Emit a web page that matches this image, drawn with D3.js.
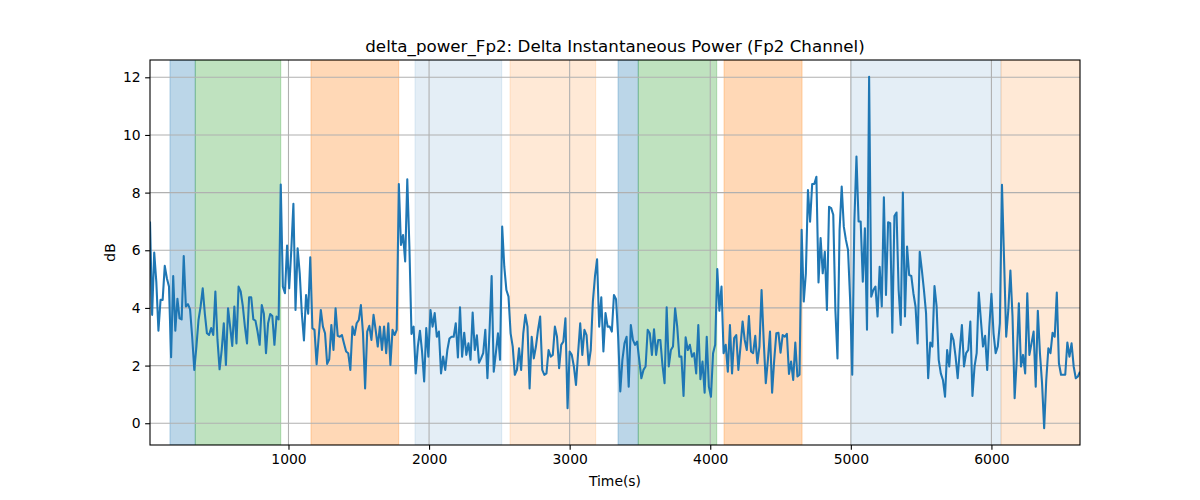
<!DOCTYPE html>
<html>
<head>
<meta charset="utf-8">
<script src="https://cdn.jsdelivr.net/npm/d3@7"></script>
<style>
  html, body { margin: 0; padding: 0; background: #ffffff; }
  svg { display: block; }
  text { font-family: "DejaVu Sans", sans-serif; fill: #000; }
</style>
</head>
<body>
<svg id="chart" width="1200" height="500"></svg>
<script>
// ---------------- data ----------------
const title = "delta_power_Fp2: Delta Instantaneous Power (Fp2 Channel)";
const xLabel = "Time(s)";
const yLabel = "dB";
const timeStart = 15;      // first sample time (s)
const timeStep = 15;       // sampling interval (s)
const deltaPower = [
 7.0,3.76,5.92,4.9,3.21,4.28,4.28,5.46,5.03,4.74,
 2.29,5.11,3.21,4.32,3.64,3.6,5.8,4.05,4.13,3.95,
 3.0,1.85,2.66,3.58,4.05,4.68,3.8,3.12,3.06,3.3,
 3.06,4.57,2.89,1.87,2.54,3.47,2.02,3.99,3.35,2.68,
 4.05,2.77,4.74,4.57,4.07,3.35,2.77,4.37,4.37,3.6,
 3.56,3.18,2.72,4.1,3.8,2.43,3.47,3.79,3.72,2.72,
 3.7,3.6,8.28,4.74,4.51,6.16,4.68,6.01,7.61,3.93,
 6.07,5.2,3.8,2.87,4.45,3.8,5.76,3.3,3.24,2.05,
 3.0,3.93,3.35,3.12,2.06,2.22,3.41,2.54,3.99,3.03,
 3.0,3.06,2.77,2.49,2.43,1.85,3.35,3.06,3.47,3.58,
 4.1,3.12,1.21,3.18,3.38,2.89,3.76,3.24,2.66,3.35,
 2.54,3.35,2.43,3.47,2.02,3.24,3.06,3.24,8.3,6.18,
 6.53,5.61,8.46,6.13,3.1,3.35,1.73,2.66,3.21,2.49,
 1.45,3.3,2.31,3.93,3.35,3.82,3.0,3.18,1.73,2.31,
 1.85,2.54,2.94,3.0,3.0,3.47,2.28,4.02,2.31,3.14,
 2.37,2.77,2.2,3.84,2.54,3.05,2.1,2.25,2.43,3.24,
 1.56,3.2,5.11,1.79,2.43,3.12,2.2,6.82,5.43,4.62,
 4.39,3.12,2.66,1.68,1.85,2.6,1.85,3.12,3.76,3.35,
 1.21,3.0,2.25,2.66,3.24,3.7,1.85,1.68,1.73,2.54,
 2.31,2.37,3.35,3.0,1.91,2.72,2.83,3.64,0.52,2.49,
 2.37,1.97,1.33,2.43,3.47,2.37,3.24,3.06,2.02,2.54,
 4.22,5.09,5.69,3.35,4.37,2.49,3.82,3.35,3.35,3.18,
 4.45,4.3,3.0,1.1,2.2,2.77,3.0,1.27,3.41,2.89,
 2.72,2.83,2.2,1.56,1.85,1.97,3.24,3.12,2.37,3.26,
 2.37,2.89,2.89,2.02,1.39,4.02,1.97,2.54,2.66,3.99,
 3.35,2.31,2.31,0.95,2.98,2.54,2.72,2.31,2.43,1.73,
 3.41,1.53,2.14,1.06,3.0,1.27,0.92,2.43,2.72,5.35,
 3.9,4.74,2.43,2.72,1.79,3.41,1.73,2.95,3.06,1.85,
 2.66,3.53,2.89,2.54,3.72,2.49,2.43,3.03,2.08,2.66,
 4.62,2.89,1.39,2.2,3.18,1.06,2.2,3.12,3.14,2.45,
 3.06,3.0,3.1,1.71,2.14,1.5,2.8,1.62,1.68,6.71,
 4.22,5.2,8.09,6.99,8.3,8.3,8.55,4.88,6.42,5.2,
 5.95,3.93,7.51,7.46,7.23,3.93,2.25,6.71,8.21,6.82,
 6.36,6.01,4.28,1.68,7.0,9.25,7.0,7.0,4.91,6.76,
 3.24,12.02,4.39,4.62,4.74,3.7,5.43,4.05,7.84,4.45,
 6.97,6.94,3.14,7.19,7.31,4.62,3.41,8.0,3.7,6.13,
 5.14,5.11,4.51,4.05,2.77,5.95,5.32,4.62,3.82,1.56,
 2.8,2.66,4.76,4.05,2.2,1.73,1.5,0.92,2.54,1.97,
 3.1,2.89,2.31,1.56,2.54,3.41,1.97,2.43,2.54,3.53,
 0.95,1.97,2.43,4.53,3.58,2.66,3.03,1.85,3.35,4.49,
 3.12,2.43,2.66,3.47,8.27,5.66,3.0,3.93,5.3,3.7,
 0.87,2.2,4.16,1.97,2.37,1.73,4.51,2.37,2.77,3.18,
 1.27,3.9,2.43,1.39,-0.17,1.5,2.6,2.43,3.14,3.0,
 4.53,2.08,1.68,1.68,1.68,2.8,2.31,2.77,1.97,1.56,
 1.62,1.79
];
// shaded stage intervals (s)
const spanStart = [157, 337, 1160, 1900, 2576, 3344, 3488, 4098, 5003, 6068];
const spanEnd   = [337, 945, 1784, 2517, 3185, 3488, 4046, 4653, 6068, 6630];
const spanColor = ["#1f77b4","#2ca02c","#ff7f0e","#1f77b4","#ff7f0e",
                   "#1f77b4","#2ca02c","#ff7f0e","#1f77b4","#ff7f0e"];
const spanAlpha = [0.3, 0.3, 0.3, 0.12, 0.17, 0.3, 0.3, 0.3, 0.12, 0.17];
const xTicks = [1000, 2000, 3000, 4000, 5000, 6000];
const yTicks = [0, 2, 4, 6, 8, 10, 12];
const xDomain = [15, 6630];
const yDomain = [-0.755, 12.6];

// ---------------- drawing ----------------
const svg = d3.select("#chart");
const L = 150, R = 1080, T = 60, B = 445;
const x = d3.scaleLinear().domain(xDomain).range([L, R]);
const y = d3.scaleLinear().domain(yDomain).range([B, T]);

svg.append("defs").append("clipPath").attr("id", "clip")
  .append("rect").attr("x", L).attr("y", T).attr("width", R - L).attr("height", B - T);

const plot = svg.append("g").attr("clip-path", "url(#clip)");

// spans
const spans = spanStart.map((s, i) => ({ s, e: spanEnd[i], c: spanColor[i], a: spanAlpha[i] }));
plot.selectAll("rect.span").data(spans).enter().append("rect")
  .attr("class", "span")
  .attr("x", d => x(d.s))
  .attr("y", T)
  .attr("width", d => x(d.e) - x(d.s))
  .attr("height", B - T)
  .attr("fill", d => d.c)
  .attr("fill-opacity", d => d.a)
  .attr("stroke", d => d.c)
  .attr("stroke-opacity", d => d.a)
  .attr("stroke-width", 1);

// grid
plot.selectAll("line.gx").data(xTicks).enter().append("line")
  .attr("x1", d => x(d)).attr("x2", d => x(d)).attr("y1", T).attr("y2", B)
  .attr("stroke", "#b0b0b0").attr("stroke-width", 1.1);
plot.selectAll("line.gy").data(yTicks).enter().append("line")
  .attr("y1", d => y(d)).attr("y2", d => y(d)).attr("x1", L).attr("x2", R)
  .attr("stroke", "#b0b0b0").attr("stroke-width", 1.1);

// line
const pts = deltaPower.map((v, i) => [timeStart + i * timeStep, v]);
plot.append("path").datum(pts)
  .attr("d", d3.line().x(d => x(d[0])).y(d => y(d[1])))
  .attr("fill", "none")
  .attr("stroke", "#1f77b4")
  .attr("stroke-width", 2.08)
  .attr("stroke-linejoin", "round")
  .attr("stroke-linecap", "butt");

// axes
const xAxis = d3.axisBottom(x).tickValues(xTicks).tickSize(4.86).tickPadding(4.5).tickFormat(d3.format("d"));
const yAxis = d3.axisLeft(y).tickValues(yTicks).tickSize(4.86).tickPadding(4.5).tickFormat(d3.format("d"));
const gx = svg.append("g").attr("transform", `translate(0,${B})`).call(xAxis);
const gy = svg.append("g").attr("transform", `translate(${L},0)`).call(yAxis);
[gx, gy].forEach(g => {
  g.select(".domain").remove();
  g.selectAll(".tick line").attr("stroke", "#000").attr("stroke-width", 1.1);
  g.selectAll(".tick text").attr("font-size", "13.9px").attr("font-family", "DejaVu Sans").attr("fill", "#000");
});

// frame
svg.append("rect").attr("x", L).attr("y", T).attr("width", R - L).attr("height", B - T)
  .attr("fill", "none").attr("stroke", "#000").attr("stroke-width", 1.1);

// labels
svg.append("text").attr("x", (L + R) / 2).attr("y", 52).attr("text-anchor", "middle")
  .attr("font-size", "16.7px").text(title);
svg.append("text").attr("x", (L + R) / 2).attr("y", 486).attr("text-anchor", "middle")
  .attr("font-size", "13.9px").text(xLabel);
svg.append("text").attr("transform", `translate(115,${(T + B) / 2}) rotate(-90)`)
  .attr("text-anchor", "middle").attr("font-size", "13.9px").text(yLabel);
</script>
</body>
</html>
